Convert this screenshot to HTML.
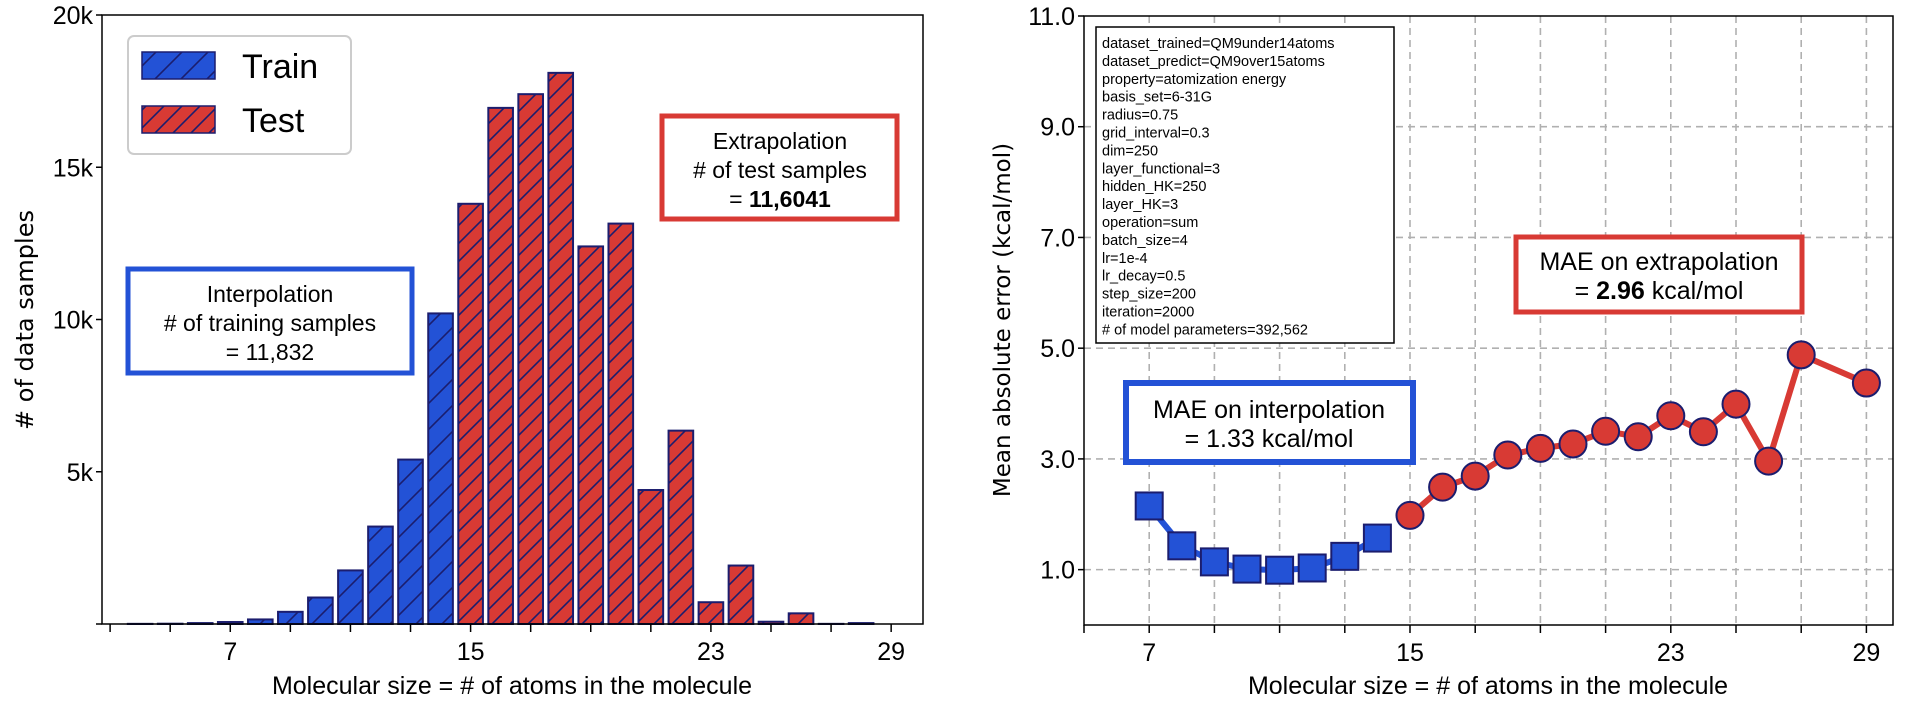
<!DOCTYPE html>
<html><head><meta charset="utf-8">
<style>
html,body{margin:0;padding:0;background:#fff;}
svg{display:block;font-family:"Liberation Sans","DejaVu Sans",sans-serif;}
</style></head>
<body>
<svg id="fig" width="1920" height="706" viewBox="0 0 1920 706" xmlns="http://www.w3.org/2000/svg">
<defs>
<pattern id="hatchTrain" patternUnits="userSpaceOnUse" width="26" height="26" patternTransform="rotate(0)">
<rect width="26" height="26" fill="#2352d6"/>
<path d="M-6,32 L32,-6 M-6,6 L6,-6 M20,32 L32,20" stroke="#1b1d6e" stroke-width="1.6"/>
</pattern>
<pattern id="hatchTest" patternUnits="userSpaceOnUse" width="18" height="18">
<rect width="18" height="18" fill="#d83a34"/>
<path d="M-4,22 L22,-4 M-4,4 L4,-4 M14,22 L22,14" stroke="#1b1d6e" stroke-width="1.6"/>
</pattern>
</defs>
<g id="left"></g>
<g id="right"></g>
</svg>
<script>
// ---- Left chart data ----
const trainSizes = [4,5,6,7,8,9,10,11,12,13,14];
const trainCounts = [5,10,30,65,150,400,870,1760,3200,5400,10200];
const testSizes = [15,16,17,18,19,20,21,22,23,24,25,26,27,28];
const testCounts = [13800,16950,17400,18100,12400,13150,4400,6350,715,1920,75,350,5,30];
const leftYTicks = [0,5000,10000,15000,20000];
const leftYTickLabels = ["","5k","10k","15k","20k"];
const leftXTicks = [3,5,7,9,11,13,15,17,19,21,23,25,27,29];
const leftXTickLabels = {7:"7",15:"15",23:"23",29:"29"};
// ---- Right chart data ----
const interpSizes = [7,8,9,10,11,12,13,14];
const interpMAE = [2.15,1.43,1.14,1.01,0.99,1.03,1.24,1.57];
const extrapSizes = [15,16,17,18,19,20,21,22,23,24,25,26,27,29];
const extrapMAE = [1.98,2.49,2.69,3.07,3.19,3.27,3.50,3.40,3.78,3.49,3.99,2.96,4.88,4.37];
const rightYTicks = [1,3,5,7,9,11];
const rightYTickLabels = ["1.0","3.0","5.0","7.0","9.0","11.0"];
const rightXTicks = [5,7,9,11,13,15,17,19,21,23,25,27,29];
const rightXTickLabels = {7:"7",15:"15",23:"23",29:"29"};
const params = ["dataset_trained=QM9under14atoms","dataset_predict=QM9over15atoms","property=atomization energy","basis_set=6-31G","radius=0.75","grid_interval=0.3","dim=250","layer_functional=3","hidden_HK=250","layer_HK=3","operation=sum","batch_size=4","lr=1e-4","lr_decay=0.5","step_size=200","iteration=2000","# of model parameters=392,562"];

const NS="http://www.w3.org/2000/svg";
function mk(parent,tag,attrs,text){const e=document.createElementNS(NS,tag);for(const k in attrs)e.setAttribute(k,attrs[k]);if(text!==undefined)e.textContent=text;parent.appendChild(e);return e;}

// ===== Left =====
const L=document.getElementById('left');
const lx0=102,lx1=923,ly0=15,ly1=624;
const lxmin=2.73,lxmax=30.06;
const lX=v=>lx0+(v-lxmin)/(lxmax-lxmin)*(lx1-lx0);
const lY=v=>ly1-(v/20000)*(ly1-ly0);
const bw=0.82*(lX(1)-lX(0));
trainSizes.forEach((s,i)=>{
  const r=mk(L,'rect',{x:lX(s)-bw/2,y:lY(trainCounts[i]),width:bw,height:ly1-lY(trainCounts[i]),fill:'url(#hatchTrain)',stroke:'#1b1d6e','stroke-width':2});
  
  
});
testSizes.forEach((s,i)=>{
  const r=mk(L,'rect',{x:lX(s)-bw/2,y:lY(testCounts[i]),width:bw,height:ly1-lY(testCounts[i]),fill:'url(#hatchTest)',stroke:'#1b1d6e','stroke-width':2});
  
  
});
mk(L,'rect',{x:lx0,y:ly0,width:lx1-lx0,height:ly1-ly0,fill:'none',stroke:'#000','stroke-width':1.5});
leftYTicks.forEach((t,i)=>{
  mk(L,'line',{x1:lx0-6,x2:lx0,y1:lY(t),y2:lY(t),stroke:'#000','stroke-width':1.5});
  const tx=mk(L,'text',{x:lx0-9,y:lY(t)+9,'text-anchor':'end','font-size':25},leftYTickLabels[i]);
  
  
});
leftXTicks.forEach(t=>{
  mk(L,'line',{x1:lX(t),x2:lX(t),y1:ly1,y2:ly1+8,stroke:'#000','stroke-width':1.5});
  if(leftXTickLabels[t]){const tx=mk(L,'text',{x:lX(t),y:ly1+36,'text-anchor':'middle','font-size':25},leftXTickLabels[t]);
  
  }
});
</script>
<script>
// static annotations left
(function(){
const L=document.getElementById('left');
L.insertAdjacentHTML('beforeend',`
<text x="512" y="694" text-anchor="middle" font-size="25">Molecular size = # of atoms in the molecule</text>
<text transform="translate(33,320) rotate(-90)" text-anchor="middle" font-size="24" font-family="DejaVu Sans, sans-serif"># of data samples</text>
<g>
<rect x="128" y="36" width="223" height="118" rx="6" fill="#fff" stroke="#ccc" stroke-width="2"/>
<rect x="142" y="52" width="73" height="27" fill="url(#hatchTrain)" stroke="#1b1d6e" stroke-width="1.5"/>
<text x="242" y="78" font-size="34">Train</text>
<rect x="142" y="106" width="73" height="27" fill="url(#hatchTest)" stroke="#1b1d6e" stroke-width="1.5"/>
<text x="242" y="132" font-size="34">Test</text>
</g>
<g>
<rect x="128" y="269" width="284" height="104" fill="#fff" stroke="#2352d6" stroke-width="5"/>
<text x="270" y="302" text-anchor="middle" font-size="23">Interpolation</text>
<text x="270" y="331" text-anchor="middle" font-size="23"># of training samples</text>
<text x="270" y="360" text-anchor="middle" font-size="23">= 11,832</text>
</g>
<g>
<rect x="662" y="116" width="235" height="103" fill="#fff" stroke="#d83a34" stroke-width="5"/>
<text x="780" y="149" text-anchor="middle" font-size="23">Extrapolation</text>
<text x="780" y="178" text-anchor="middle" font-size="23"># of test samples</text>
<text x="780" y="207" text-anchor="middle" font-size="23">= <tspan font-weight="bold">11,6041</tspan></text>
</g>`);
})();
</script>
<script>
// ===== Right =====
(function(){
const R=document.getElementById('right');
const rx0=1084,rx1=1893,ry0=16,ry1=625;
const rxmin=5,rxmax=rxmin+(rx1-rx0)/32.6;
const rX=v=>rx0+(v-rxmin)/(rxmax-rxmin)*(rx1-rx0);
const rY=v=>ry1-(v/11)*(ry1-ry0);
rightXTicks.forEach(t=>{ if(t>rxmin) mk(R,'line',{x1:rX(t),x2:rX(t),y1:ry0,y2:ry1,stroke:'#b0b0b0','stroke-width':1.6,'stroke-dasharray':'7,5'}); });
rightYTicks.forEach(t=>{ if(t<11) mk(R,'line',{x1:rx0,x2:rx1,y1:rY(t),y2:rY(t),stroke:'#b0b0b0','stroke-width':1.6,'stroke-dasharray':'7,5'}); });
mk(R,'rect',{x:rx0,y:ry0,width:rx1-rx0,height:ry1-ry0,fill:'none',stroke:'#000','stroke-width':1.5});
rightYTicks.forEach((t,i)=>{
  mk(R,'line',{x1:rx0-6,x2:rx0,y1:rY(t),y2:rY(t),stroke:'#000','stroke-width':1.5});
  const tx=mk(R,'text',{x:rx0-9,y:rY(t)+9,'text-anchor':'end','font-size':25},rightYTickLabels[i]);
  
  
});
rightXTicks.forEach(t=>{
  mk(R,'line',{x1:rX(t),x2:rX(t),y1:ry1,y2:ry1+8,stroke:'#000','stroke-width':1.5});
  if(rightXTickLabels[t]){const tx=mk(R,'text',{x:rX(t),y:ry1+36,'text-anchor':'middle','font-size':25},rightXTickLabels[t]);
  
  }
});
// params box
const pb=mk(R,'g',{});


mk(pb,'rect',{x:1096,y:27,width:298,height:316,fill:'#fff',stroke:'#000','stroke-width':1.5});
params.forEach((p,i)=>{mk(pb,'text',{x:1102,y:48+i*17.9,'font-size':14.5},p);});
// interp line
const ip=interpSizes.map((s,i)=>rX(s)+','+rY(interpMAE[i])).join(' ');
const il=mk(R,'polyline',{points:ip,fill:'none',stroke:'#2352d6','stroke-width':6});


interpSizes.forEach((s,i)=>{
  const m=mk(R,'rect',{x:rX(s)-13.5,y:rY(interpMAE[i])-13.5,width:27,height:27,fill:'#2352d6',stroke:'#1b1d6e','stroke-width':2});
  
  
});
const ep=extrapSizes.map((s,i)=>rX(s)+','+rY(extrapMAE[i])).join(' ');
const el=mk(R,'polyline',{points:ep,fill:'none',stroke:'#d83a34','stroke-width':6});


extrapSizes.forEach((s,i)=>{
  const m=mk(R,'circle',{cx:rX(s),cy:rY(extrapMAE[i]),r:13.5,fill:'#d83a34',stroke:'#1b1d6e','stroke-width':2});
  
  
});
R.insertAdjacentHTML('beforeend',`
<text x="1488" y="694" text-anchor="middle" font-size="25">Molecular size = # of atoms in the molecule</text>
<text transform="translate(1010,320) rotate(-90)" text-anchor="middle" font-size="23" font-family="DejaVu Sans, sans-serif">Mean absolute error (kcal/mol)</text>
<g>
<rect x="1126" y="383" width="287" height="79" fill="#fff" stroke="#2352d6" stroke-width="6"/>
<text x="1269" y="418" text-anchor="middle" font-size="25">MAE on interpolation</text>
<text x="1269" y="447" text-anchor="middle" font-size="25">= 1.33 kcal/mol</text>
</g>
<g>
<rect x="1516" y="237" width="286" height="75" fill="#fff" stroke="#d83a34" stroke-width="5"/>
<text x="1659" y="270" text-anchor="middle" font-size="25">MAE on extrapolation</text>
<text x="1659" y="299" text-anchor="middle" font-size="25">= <tspan font-weight="bold">2.96</tspan> kcal/mol</text>
</g>`);
})();
</script>
</body></html>
